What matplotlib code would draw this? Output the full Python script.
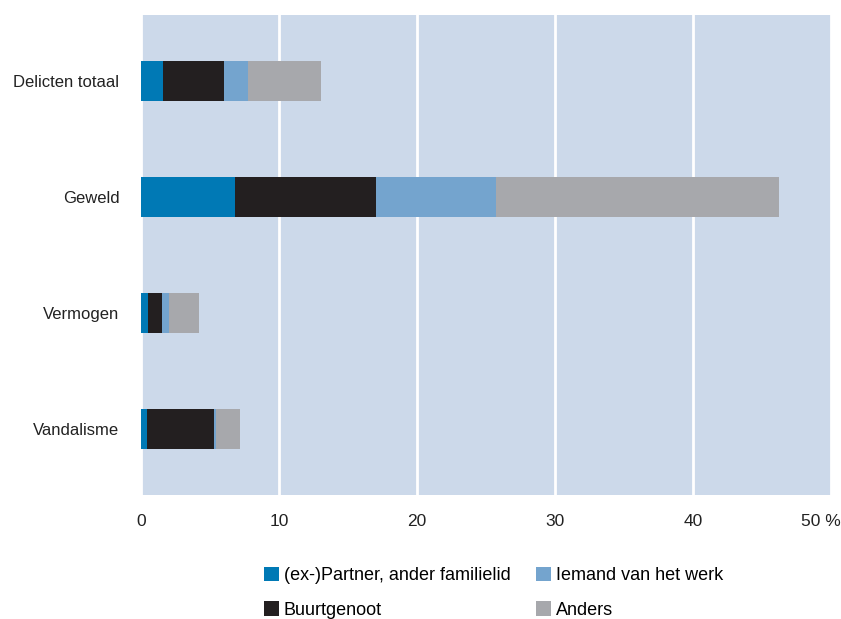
import matplotlib.pyplot as plt
import matplotlib.transforms as mtransforms
from matplotlib.patches import Patch

categories = ["Delicten totaal", "Geweld", "Vermogen", "Vandalisme"]
series_names = ["(ex-)Partner, ander familielid", "Buurtgenoot",
                "Iemand van het werk", "Anders"]
partner = [1.6, 6.8, 0.5, 0.45]
buurt = [4.4, 10.2, 1.0, 4.85]
werk = [1.75, 8.7, 0.5, 0.15]
anders = [5.3, 20.5, 2.2, 1.75]
x_ticks = [0, 10, 20, 30, 40, 50]
x_labels = ["0", "10", "20", "30", "40", "50 %"]

colors = ["#0079b5", "#231f20", "#74a4ce", "#a7a8ac"]

plt.rcParams['font.family'] = ['Liberation Sans', 'DejaVu Sans']

fig = plt.figure(figsize=(8.41, 6.19), dpi=100)
ax = fig.add_axes([141 / 841, 1 - 495 / 619, 690 / 841, 480 / 619])
ax.set_facecolor("#ccd9ea")

y = list(range(len(categories)))
left = [0] * len(categories)
series = [partner, buurt, werk, anders]
for vals, col in zip(series, colors):
    ax.barh(y, vals, left=left, height=0.345, color=col, zorder=3)
    left = [a + b for a, b in zip(left, vals)]

ax.set_xlim(0, 50)
ax.set_ylim(3.57, -0.57)
ax.set_yticks(y)
ax.set_yticklabels(categories, fontsize=12, color="#222222")
ax.set_xticks(x_ticks)
ax.set_xticklabels(x_labels, fontsize=12.5, color="#222222")
ax.tick_params(length=0)
ax.tick_params(axis='x', pad=14)
ax.tick_params(axis='y', pad=15.5)
ax.grid(axis='x', color="white", linewidth=2, zorder=1)
for s in ax.spines.values():
    s.set_visible(False)

# nudge the "50 %" label so it stays inside the figure
last = ax.get_xticklabels()[-1]
last.set_horizontalalignment('right')
last.set_transform(last.get_transform() +
                   mtransforms.ScaledTranslation(10 / 100, 0, fig.dpi_scale_trans))

handles = [Patch(facecolor=c, edgecolor='none') for c in colors]
fig.legend(handles, series_names, ncol=2, loc='upper left',
           bbox_to_anchor=(264 / 841, 1 - 567 / 619), frameon=False,
           fontsize=13, handlelength=0.83, handleheight=0.83,
           handletextpad=0.25, columnspacing=1.45, labelspacing=0.95,
           borderpad=0, borderaxespad=0)

fig.savefig("out.png", dpi=100)
